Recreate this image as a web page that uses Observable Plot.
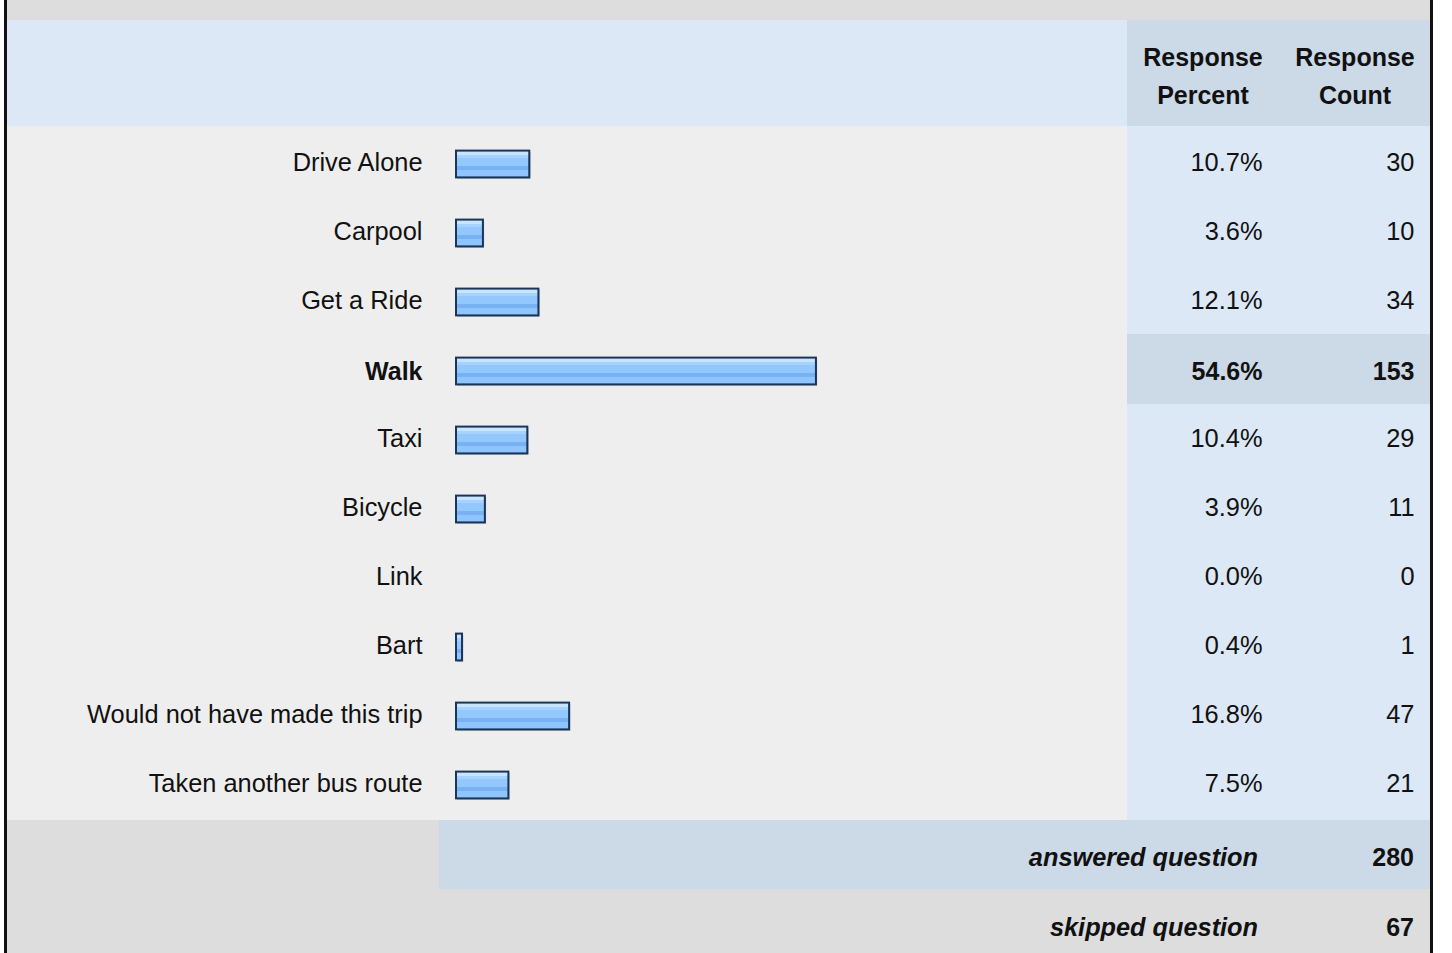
<!DOCTYPE html>
<html>
<head>
<meta charset="utf-8">
<script src="https://cdn.jsdelivr.net/npm/d3@7"></script>
<script src="https://cdn.jsdelivr.net/npm/@observablehq/plot@0.6"></script>
<style>
  html, body { margin: 0; padding: 0; background: #fff; }
  body { width: 1452px; height: 953px; position: relative; overflow: hidden;
         font-family: "Liberation Sans", Arial, sans-serif; color: #111; }
  .box { position: absolute; }
  .t { position: absolute; height: 30px; line-height: 30px; font-size: 25px; white-space: nowrap; }
  .b { font-weight: bold; }
  .bi { font-weight: bold; font-style: italic; font-size: 25.3px; }
  #chart { position: absolute; left: 7px; top: 126px; }
</style>
</head>
<body>
<!-- frame & backgrounds -->
<div class="box" style="left:7px;top:0;width:1423px;height:20px;background:#dddddd"></div>
<div class="box" style="left:7px;top:20px;width:1120px;height:106px;background:#dce8f5"></div>
<div class="box" style="left:1127px;top:20px;width:303px;height:106px;background:#ccd9e7"></div>
<div class="box" style="left:7px;top:126px;width:1120px;height:694px;background:#eeeeee"></div>
<div class="box" style="left:1127px;top:126px;width:303px;height:694px;background:#dce8f5"></div>
<div class="box" style="left:7px;top:820px;width:432px;height:69px;background:#dddddd"></div>
<div class="box" style="left:439px;top:820px;width:991px;height:69px;background:#ccd9e7"></div>
<div class="box" style="left:7px;top:889px;width:1423px;height:64px;background:#dddddd"></div>
<div class="box" style="left:4px;top:0;width:3px;height:953px;background:#111"></div>
<div class="box" style="left:1430px;top:0;width:3px;height:953px;background:#111"></div>

<div id="header"></div>
<div id="chart"></div>
<div id="footer"></div>

<script>
// ---- data ----
const categories = ["Drive Alone", "Carpool", "Get a Ride", "Walk", "Taxi", "Bicycle", "Link", "Bart",
                    "Would not have made this trip", "Taken another bus route"];
const percents = [10.7, 3.6, 12.1, 54.6, 10.4, 3.9, 0.0, 0.4, 16.8, 7.5];
const counts = [30, 10, 34, 153, 29, 11, 0, 1, 47, 21];
const highlighted = "Walk";
const headerPercent = ["Response", "Percent"];
const headerCount = ["Response", "Count"];
const footerLabels = ["answered question", "skipped question"];
const footerValues = [280, 67];

const rows = categories.map((c, i) => ({category: c, percent: percents[i], count: counts[i]}));

// ---- header / footer text ----
function addText(parent, text, cls, css) {
  const d = document.createElement("div");
  d.className = "t " + cls;
  d.textContent = text;
  Object.assign(d.style, css);
  parent.appendChild(d);
}
const header = document.getElementById("header");
headerPercent.forEach((s, i) => addText(header, s, "b", {left: "1103px", width: "200px", textAlign: "center", top: (42 + i * 38) + "px"}));
headerCount.forEach((s, i) => addText(header, s, "b", {left: "1255px", width: "200px", textAlign: "center", top: (42 + i * 38) + "px"}));
const footer = document.getElementById("footer");
footerLabels.forEach((s, i) => {
  const top = (i === 0 ? 842 : 912) + "px";
  addText(footer, s, "bi", {right: (1452 - 1258) + "px", top});
  addText(footer, String(footerValues[i]), "b", {right: (1452 - 1414) + "px", top});
});

// ---- chart ----
const defsMark = () => {
  const g = d3.create("svg:g");
  const grad = g.append("defs").append("linearGradient")
    .attr("id", "barGrad").attr("x1", 0).attr("y1", 0).attr("x2", 0).attr("y2", 1);
  const stops = [
    [0, "#c8e4ff"], [0.148, "#c8e4ff"], [0.148, "#a6d2ff"], [0.259, "#a6d2ff"],
    [0.259, "#93c8ff"], [0.556, "#93c8ff"], [0.556, "#78b2f2"], [0.741, "#78b2f2"],
    [0.741, "#8ec5ff"], [1, "#8ec5ff"]
  ];
  stops.forEach(([o, c]) => grad.append("stop").attr("offset", o).attr("stop-color", c));
  return g.node();
};

const highlightMark = (index, scales, values, dimensions) => {
  const y = scales.y;
  const bw = y.bandwidth ? y.bandwidth() : dimensions.height / categories.length;
  const g = d3.create("svg:g");
  g.append("rect")
    .attr("x", 1120).attr("width", dimensions.width - 1120)
    .attr("y", y(highlighted) - 1).attr("height", bw + 1)
    .attr("fill", "#ccd9e7");
  return g.node();
};

const barRows = rows.filter(d => d.percent > 0);
const normal = rows.filter(d => d.category !== highlighted);
const bold = rows.filter(d => d.category === highlighted);
const fmtPct = d => d.percent.toFixed(1) + "%";

const textMarks = (data, weight, size, dy) => [
  Plot.text(data, {y: "category", text: "category", frameAnchor: "left", dx: 415, dy, textAnchor: "end", fill: "#111", fontWeight: weight, fontSize: size}),
  Plot.text(data, {y: "category", text: fmtPct, frameAnchor: "right", dx: -168, dy, textAnchor: "end", fill: "#111", fontWeight: weight, fontSize: size}),
  Plot.text(data, {y: "category", text: "count", frameAnchor: "right", dx: -16, dy, textAnchor: "end", fill: "#111", fontWeight: weight, fontSize: size})
];

const barOpts = {x1: 0, x2: "percent", y: "category", insetTop: 22.6, insetBottom: 19.6, insetRight: -3.4};

const chart = Plot.plot({
  width: 1423,
  height: 694,
  margin: 0,
  x: {domain: [0, 100], range: [449, 449 + 653], axis: null},
  y: {domain: categories, range: [0, 694], padding: 0, axis: null},
  style: {background: "transparent", fontFamily: "'Liberation Sans', Arial, sans-serif", fontSize: "25px", overflow: "visible"},
  marks: [
    defsMark,
    highlightMark,
    Plot.barX(barRows, {...barOpts, dx: 1.2, dy: 1.2, fill: "#8d9bb0", fillOpacity: 0.8}),
    Plot.barX(barRows, {...barOpts, fill: "url(#barGrad)", stroke: "#1b3558", strokeWidth: 2}),
    ...textMarks(normal, "normal", 25.4, -0.5),
    ...textMarks(bold, "bold", 25, 1.5)
  ]
});
document.getElementById("chart").appendChild(chart);
</script>
</body>
</html>
